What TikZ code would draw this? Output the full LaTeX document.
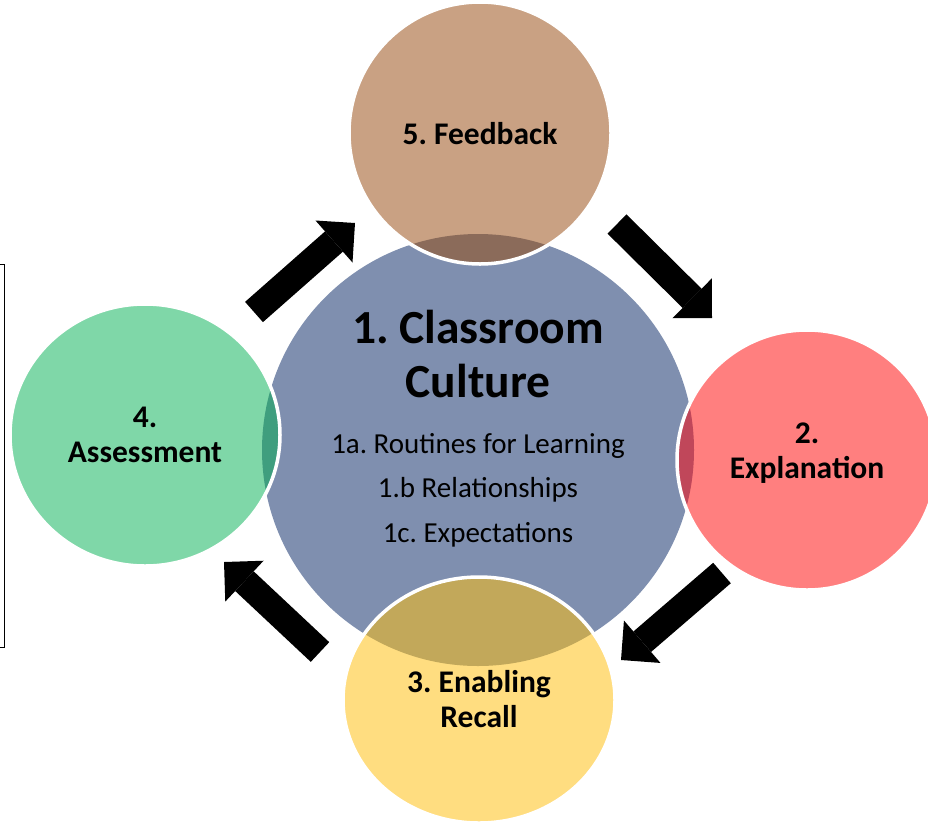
\documentclass[tikz,border=0pt]{standalone}
\usepackage{fontspec}
\setmainfont{Carlito}
\frenchspacing
\usetikzlibrary{arrows.meta}

\definecolor{cultureblue}{HTML}{7F8FAF}
\definecolor{feedbacktan}{HTML}{C9A183}
\definecolor{feedbackdark}{HTML}{8B6B5A}
\definecolor{explainred}{HTML}{FF7F7F}
\definecolor{explaindark}{HTML}{C0475A}
\definecolor{recallyellow}{HTML}{FFDD80}
\definecolor{recalldark}{HTML}{C2A85A}
\definecolor{assessgreen}{HTML}{7FD7A8}
\definecolor{assessdark}{HTML}{3F9E7E}

\begin{document}
\begin{tikzpicture}[x=1pt, y=-1pt,
    rim/.style={draw=white, line width=3.5pt},
    flow/.style={line width=27pt, -{Triangle[length=28pt, width=56pt, line width=0pt]}},
    stage/.style={align=center, anchor=base, font=\fontsize{31.5}{35}\selectfont\bfseries},
    title/.style={align=center, anchor=base, font=\fontsize{47.5}{54}\selectfont\bfseries},
    topics/.style={align=center, anchor=base, font=\fontsize{29}{44.5}\selectfont}
]
  \useasboundingbox (0,0) rectangle (928,825);

  % edge of the frame on the left
  \draw[line width=1pt] (0,264) -- (4,264) -- (4,647) -- (0,647);

  % the five circles
  \fill[cultureblue] (478,450) circle (216pt);
  \fill[feedbacktan] (480,133) circle (131pt);
  \fill[explainred] (807,460) circle (130pt);
  \fill[recallyellow] (479,700) ellipse [x radius=136pt, y radius=123pt];
  \fill[assessgreen] (145,435) ellipse [x radius=135pt, y radius=131pt];

  % darker where they lie on the middle one
  \begin{scope}
    \clip (478,450) circle (216pt);
    \fill[feedbackdark] (480,133) circle (131pt);
    \fill[explaindark] (807,460) circle (130pt);
    \fill[recalldark] (479,700) ellipse [x radius=136pt, y radius=123pt];
    \fill[assessdark] (145,435) ellipse [x radius=135pt, y radius=131pt];
  \end{scope}

  \draw[rim] (480,133) circle (131pt);
  \draw[rim] (807,460) circle (130pt);
  \draw[rim] (479,700) ellipse [x radius=136pt, y radius=123pt];
  \draw[rim] (145,435) ellipse [x radius=135pt, y radius=131pt];

  % labels (base = last line)
  \node[title] (culture) at (478,397) {1. Classroom\\Culture};
  \node[topics] (topics) at (478,542) {1a. Routines for Learning\\1.b Relationships\\1c. Expectations};
  \node[stage] (feedback) at (480,144) {5. Feedback};
  \node[stage] (explain) at (807,478) {2.\\Explanation};
  \node[stage] (recall) at (479,727) {3. Enabling\\Recall};
  \node[stage] (assess) at (145,462) {4.\\Assessment};

  % arrows round the cycle
  \coordinate (a1) at (254,312);
  \coordinate (b1) at (355,223);
  \coordinate (a2) at (617,224);
  \coordinate (b2) at (712,318);
  \coordinate (a3) at (722,573);
  \coordinate (b3) at (621,660);
  \coordinate (a4) at (320,652);
  \coordinate (b4) at (224,562);
  \draw[flow] (a1) -- (b1);
  \draw[flow] (a2) -- (b2);
  \draw[flow] (a3) -- (b3);
  \draw[flow] (a4) -- (b4);
\end{tikzpicture}
\end{document}
